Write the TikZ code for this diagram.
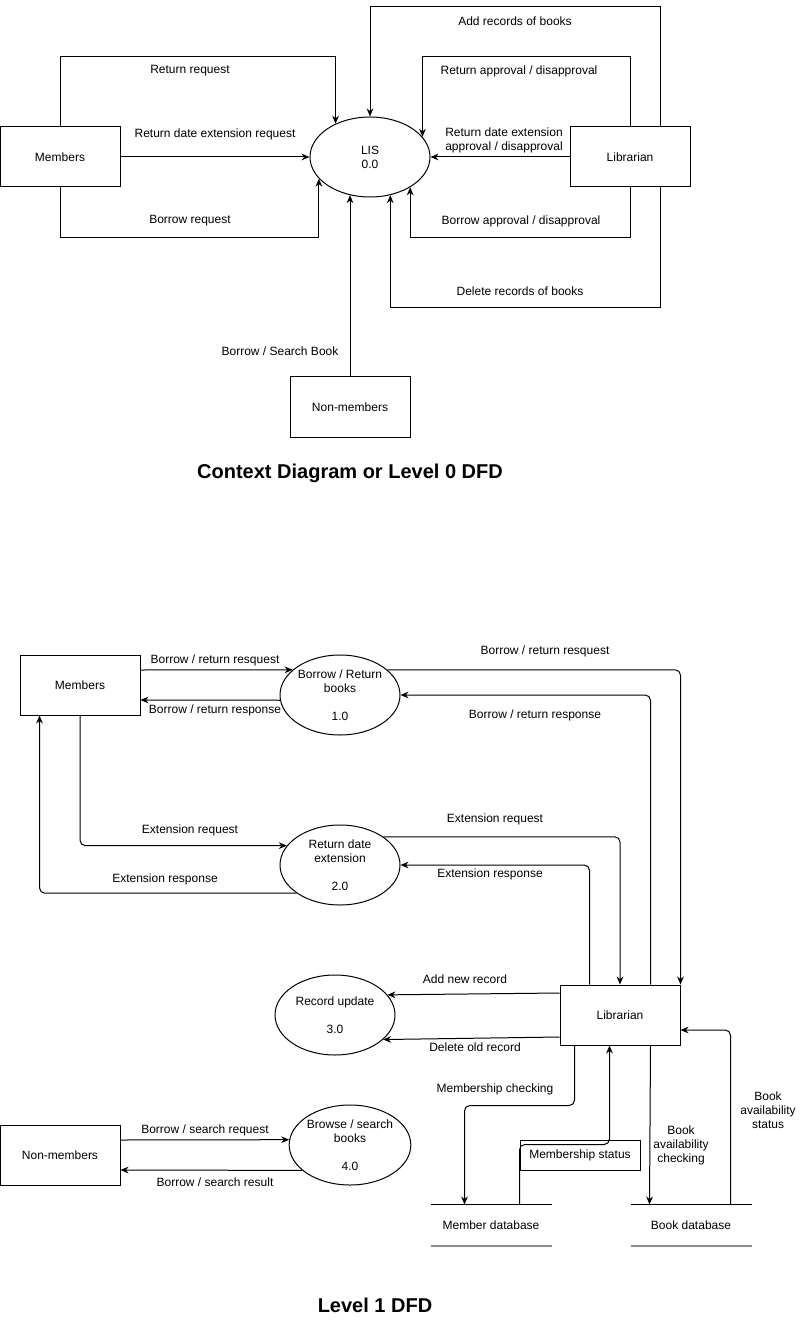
\documentclass[tikz,border=0pt]{standalone}
\usepackage{fontspec}
\setmainfont{Liberation Sans}
\usetikzlibrary{arrows.meta,shapes.geometric,calc}

\begin{document}
\begin{tikzpicture}[x=0.75pt,y=-0.75pt,line width=0.75pt,
    font=\fontsize{9}{10.5}\selectfont,
    entity/.style={draw=black,minimum width=90pt,minimum height=45pt},
    proc/.style={draw=black,ellipse,minimum width=90pt,minimum height=60pt,inner sep=0pt,align=center},
    store/.style={minimum width=90pt,minimum height=30pt},
    lbl/.style={inner sep=0pt,align=center},
    flow/.style={-{Stealth[length=6pt,width=5pt]}},
    rflow/.style={flow,rounded corners=4pt},
    title/.style={font=\bfseries\fontsize{15}{18}\selectfont}]
    \useasboundingbox (0,0) rectangle (801,1326);

    % Context diagram
    \node[entity] (members) at (60,157) {Members};
    \node[proc] (lis) at (370,157) {LIS\\0.0};
    \node[entity] (librarian) at (630,157) {Librarian};
    \node[entity] (nonmembers) at (350,407) {Non-members};

    \draw[flow] (members.north) -- ++(0,-70) -| (lis.136);
    \draw[flow] (members.east) -- (lis.west);
    \draw[flow] (members.south) -- ++(0,50) -| (lis.203);
    \draw[flow] ($(librarian.north)+(30,0)$) -- ++(0,-120) -| (lis.north);
    \draw[flow] (librarian.north) -- ++(0,-70) -| (lis.21);
    \draw[flow] (librarian.west) -- (lis.east);
    \draw[flow] (librarian.south) -- ++(0,50) -| (lis.-37);
    \draw[flow] ($(librarian.south)+(30,0)$) -- ++(0,120) -| (lis.-62);
    \draw[flow] (nonmembers.north) -- (nonmembers.north |- lis.242);

    \node[lbl] (retreq) at (190,71) {Return request};
    \node[lbl] (extreq) at (215,134) {Return date extension request};
    \node[lbl] (borreq) at (190,221) {Borrow request};
    \node[lbl] (addrec) at (515,21) {Add records of books};
    \node[lbl] (retapp) at (519,71) {Return approval / disapproval};
    \node[lbl] (extapp) at (504,140) {Return date extension\\approval / disapproval};
    \node[lbl] (borapp) at (521,221) {Borrow approval / disapproval};
    \node[lbl] (delrec) at (520,291) {Delete records of books};
    \node[lbl] (search) at (280,351) {Borrow / Search Book};

    \node[title] (title0) at (350,473) {Context Diagram or Level 0 DFD};

    % Level 1
    \node[entity] (members1) at (80,685) {Members};
    \node[proc] (borrow) at (340,695) {Borrow / Return\\books\\[10.5pt]1.0};
    \node[proc] (extend) at (340,865) {Return date\\extension\\[10.5pt]2.0};
    \node[proc] (record) at (335,1015) {Record update\\[10.5pt]3.0};
    \node[proc] (browse) at (350,1145) {Browse / search\\books\\[10.5pt]4.0};
    \node[entity] (librarian1) at (620,1015) {Librarian};
    \node[entity] (nonmembers1) at (60,1155) {Non-members};
    \node[store] (memberdb) at (491,1225) {Member database};
    \node[store] (bookdb) at (691,1225) {Book database};
    \node[draw=black,minimum width=90pt,minimum height=22.5pt] (status) at (580,1155) {Membership status};

    \draw (memberdb.north west) -- (memberdb.north east);
    \draw[black!45,line width=1.5pt] (memberdb.south west) -- (memberdb.south east);
    \draw (bookdb.north west) -- (bookdb.north east);
    \draw[black!45,line width=1.5pt] (bookdb.south west) -- (bookdb.south east);

    \draw[flow] ($(members1.east)+(0,-15)$) -- (borrow.152);
    \draw[flow] (borrow.185) -- ($(members1.east)+(0,15)$);
    \draw[rflow] (borrow.28) -| (librarian1.north east);
    \draw[rflow] ($(librarian1.north east)+(-30,0)$) |- (borrow.east);
    \draw[rflow] (members1.south) |- (extend.160);
    \draw[rflow] (extend.213) -| ($(members1.south west)+(20,0)$);
    \draw[rflow] (extend.33) -| (librarian1.north);
    \draw[rflow] ($(librarian1.north west)+(30,0)$) |- (extend.east);
    \draw[flow] ($(librarian1.west)+(0,-22)$) -- (record.21);
    \draw[flow] ($(librarian1.west)+(0,22)$) -- (record.-27);
    \draw[rflow] ($(librarian1.south west)+(15,0)$) -- ++(0,60) -| ($(memberdb.north west)+(34,0)$);
    \draw[rflow] ($(memberdb.north west)+(89,0)$) -- ++(0,-60) -| ($(librarian1.south west)+(50,0)$);
    \draw[flow] ($(librarian1.south east)+(-30,0)$) -- ($(bookdb.north west)+(19,0)$);
    \draw[rflow] ($(bookdb.north east)+(-21,0)$) |- ($(librarian1.east)+(0,15)$);
    \draw[flow] ($(nonmembers1.east)+(0,-15)$) -- (browse.175);
    \draw[flow] (browse.208) -- ($(nonmembers1.east)+(0,15)$);

    \node[lbl] (brreq) at (215,660) {Borrow / return resquest};
    \node[lbl] (brresp) at (215,710) {Borrow / return response};
    \node[lbl] (brreq2) at (545,651) {Borrow / return resquest};
    \node[lbl] (brresp2) at (535,715) {Borrow / return response};
    \node[lbl] (exreq) at (190,830) {Extension request};
    \node[lbl] (exresp) at (165,879) {Extension response};
    \node[lbl] (exreq2) at (495,819) {Extension request};
    \node[lbl] (exresp2) at (490,874) {Extension response};
    \node[lbl] (newrec) at (465,979) {Add new record};
    \node[lbl] (oldrec) at (475,1047) {Delete old record};
    \node[lbl] (memchk) at (495,1089) {Membership checking};
    \node[lbl] (bookchk) at (681,1145) {Book\\availability\\checking};
    \node[lbl] (bookstat) at (768,1110) {Book\\availability\\status};
    \node[lbl] (bsreq) at (205,1130) {Borrow / search request};
    \node[lbl] (bsres) at (215,1182) {Borrow / search result};

    \node[title] (title1) at (375,1305) {Level 1 DFD};
\end{tikzpicture}
\end{document}
